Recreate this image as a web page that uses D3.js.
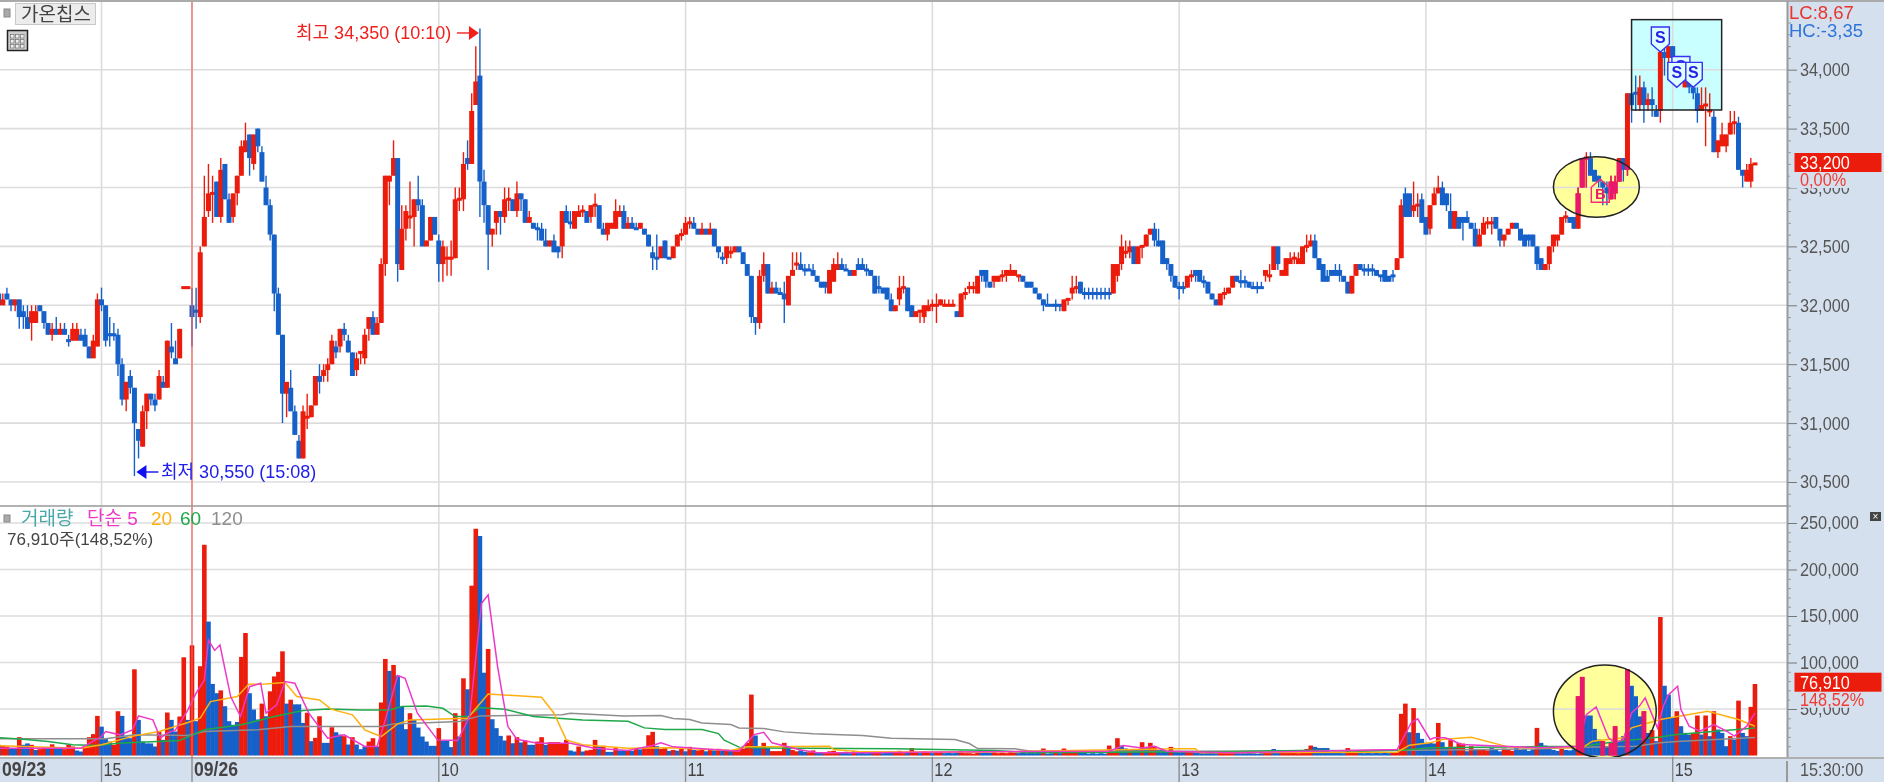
<!DOCTYPE html>
<html>
<head>
<meta charset="utf-8">
<script src="https://cdn.jsdelivr.net/npm/d3@7"></script>
<style>
    html, body { margin: 0; padding: 0; background: #fff; overflow: hidden; }
    svg { display: block; filter: blur(0.45px); }
    text { font-family: "Liberation Sans", "Noto Sans CJK KR", sans-serif; }
</style>
</head>
<body>
<div id="chart"></div>
<script>
// one candle per minute, 09/23 14:35 -> 09/26 15:20, ten bars a row
const open = [
    32100,32000,32100,32050,32000,32050,31950,31900,31850,31850,
    32000,31950,31850,31750,31800,31750,31800,31700,31700,31700,
    31750,31750,31650,31550,31650,32050,32000,31750,31750,31750,
    31500,31200,31400,31300,30950,30800,31100,31250,31200,31200,
    31350,31300,31650,31550,31550,32150,32150,32000,31950,31900,
    32500,32800,32950,33050,32750,33200,32900,32750,32950,33100,
    33300,33450,33200,33500,33300,33000,32850,32600,32100,31750,
    31250,31300,31100,30850,30700,31050,31050,31150,31400,31400,
    31450,31500,31650,31650,31800,31700,31600,31450,31600,31550,
    31800,31900,31750,31850,32350,33050,33100,33250,32300,32650,
    32750,32750,32900,32850,32500,32550,32750,32550,32350,32400,
    32400,32400,32900,32900,33250,33200,33700,33950,33050,32850,
    32600,32700,32800,32750,32900,32900,32800,32950,32900,32700,
    32700,32650,32650,32550,32500,32550,32500,32500,32800,32700,
    32650,32750,32800,32800,32750,32850,32850,32650,32600,32650,
    32650,32750,32800,32650,32700,32650,32650,32650,32600,32450,
    32400,32400,32550,32400,32400,32500,32600,32600,32700,32700,
    32650,32600,32650,32600,32650,32500,32400,32400,32450,32450,
    32500,32450,32350,32250,31900,31850,32250,32350,32100,32150,
    32100,32100,32000,32250,32350,32350,32300,32300,32300,32250,
    32200,32200,32100,32200,32300,32350,32300,32300,32250,32350,
    32350,32300,32300,32250,32150,32150,32150,32050,31950,32050,
    32150,32150,32000,31900,31950,31900,31950,32000,32000,32000,
    32000,32000,32000,31950,31900,32100,32150,32150,32100,32300,
    32300,32200,32200,32200,32250,32250,32250,32250,32250,32250,
    32200,32200,32150,32100,32050,32000,32000,32000,32000,31950,
    32050,32100,32150,32200,32100,32100,32100,32100,32100,32100,
    32100,32100,32250,32350,32450,32450,32500,32350,32500,32500,
    32600,32650,32550,32550,32400,32350,32250,32150,32150,32150,
    32250,32300,32300,32200,32200,32100,32050,32000,32100,32100,
    32150,32250,32200,32200,32200,32150,32150,32150,32250,32250,
    32300,32500,32250,32250,32350,32400,32350,32350,32500,32500,
    32550,32400,32350,32250,32300,32300,32300,32250,32200,32100,
    32250,32350,32300,32300,32300,32300,32250,32300,32250,32250,
    32300,32400,32950,32950,32800,32850,32900,32750,32650,32850,
    32950,33000,32950,32800,32650,32750,32750,32750,32700,32650,
    32500,32600,32700,32700,32750,32650,32550,32600,32650,32700,
    32650,32600,32600,32600,32500,32400,32300,32350,32500,32550,
    32600,32750,32750,32750,32650,33000,33250,33250,33150,33100,
    33050,33000,32900,32950,33050,33250,33150,33800,33800,33700,
    33850,33700,33750,33650,33650,34150,34100,34200,34100,34000,
    33850,33900,33850,33800,33650,33700,33650,33600,33300,33350,
    33350,33450,33550,33550,33150,33050,33050,33200
];
const close = [
    32000,32050,32050,32000,32050,31900,31900,31800,31950,31950,
    31950,31850,31750,31800,31750,31800,31750,31700,31800,31800,
    31700,31650,31550,31700,32050,32000,31700,31750,31750,31500,
    31200,31350,31300,31000,30850,31100,31250,31200,31150,31400,
    31300,31700,31600,31500,31800,32150,32150,31900,31950,32450,
    32750,32950,32950,32750,33150,32900,32700,32950,33100,33350,
    33400,33250,33450,33350,33050,32850,32600,32100,31750,31250,
    31350,31100,30900,30700,31100,31050,31150,31400,31350,31450,
    31500,31700,31600,31800,31750,31600,31400,31550,31600,31750,
    31900,31750,31850,32350,33100,33100,33250,32350,32650,32800,
    32750,32900,32850,32500,32550,32750,32600,32350,32500,32400,
    32400,32900,32900,33200,33200,33650,33900,33050,32850,32600,
    32650,32800,32750,32900,32900,32800,32950,32900,32700,32750,
    32650,32650,32550,32500,32550,32450,32450,32800,32700,32700,
    32800,32800,32800,32700,32850,32850,32650,32600,32700,32700,
    32800,32800,32650,32700,32650,32650,32700,32600,32500,32400,
    32400,32500,32400,32400,32500,32600,32600,32700,32700,32650,
    32600,32650,32600,32650,32500,32450,32400,32500,32450,32500,
    32450,32350,32250,31900,31850,32250,32350,32100,32150,32100,
    32100,32050,32250,32300,32350,32300,32300,32300,32250,32200,
    32150,32150,32300,32350,32350,32300,32300,32250,32300,32300,
    32300,32300,32250,32100,32150,32100,32050,31950,32000,32150,
    32150,31950,31900,31950,31950,32000,32000,32000,32000,32050,
    32000,32000,32000,31900,32100,32100,32150,32150,32250,32250,
    32200,32150,32250,32250,32250,32300,32300,32300,32250,32200,
    32150,32150,32100,32050,32000,32000,32000,32000,32000,32050,
    32050,32150,32150,32100,32100,32100,32100,32100,32100,32100,
    32100,32350,32350,32500,32450,32500,32350,32500,32500,32600,
    32650,32550,32500,32350,32350,32250,32150,32150,32150,32250,
    32250,32250,32200,32200,32100,32050,32000,32100,32100,32150,
    32250,32200,32200,32200,32150,32150,32150,32150,32300,32250,
    32500,32350,32300,32400,32400,32400,32400,32500,32500,32550,
    32400,32300,32200,32200,32250,32250,32250,32200,32100,32250,
    32350,32300,32300,32300,32300,32250,32250,32200,32200,32250,
    32400,32850,32750,32750,32850,32850,32700,32600,32850,32950,
    33000,32850,32850,32650,32800,32650,32700,32700,32650,32500,
    32600,32700,32700,32700,32650,32550,32600,32650,32700,32650,
    32550,32500,32550,32500,32350,32300,32350,32500,32600,32600,
    32750,32750,32700,32650,32950,33250,33250,33100,33050,33050,
    33000,32950,33050,33050,33250,33150,33800,33700,33800,33850,
    33700,33750,33700,33600,34150,34100,34200,34100,34000,33950,
    33900,33850,33800,33650,33700,33700,33650,33300,33400,33450,
    33450,33550,33550,33150,33100,33150,33200,33200
];
const high = [
    32100,32100,32150,32050,32050,32050,32000,32000,32000,32000,
    32000,31950,31850,31850,31900,31850,31850,31750,31850,31850,
    31800,31800,31650,31750,32100,32150,32000,31900,31850,31800,
    31550,31350,31450,31300,30950,31150,31250,31250,31250,31450,
    31400,31700,31850,31700,31800,32150,32150,32150,32150,32500,
    33100,33200,33100,33050,33250,33200,32950,32950,33100,33400,
    33550,33450,33450,33500,33350,33100,32900,32600,32150,31750,
    31350,31450,31150,30900,31150,31250,31150,31400,31500,31500,
    31550,31750,31700,31800,31850,31750,31600,31600,31600,31800,
    31900,31950,31900,32400,33100,33100,33400,33250,32850,32850,
    33050,32900,33100,32900,32550,32750,32750,32600,32550,32500,
    32550,33000,33000,33300,33400,33800,34200,34350,33150,32850,
    32650,32800,32800,33000,33000,32900,33050,32950,32900,32800,
    32700,32700,32700,32650,32550,32600,32500,32800,32850,32800,
    32800,32850,32850,32800,32850,32950,32850,32700,32700,32700,
    32900,32850,32850,32750,32750,32700,32700,32650,32600,32500,
    32600,32500,32550,32400,32500,32600,32650,32750,32750,32750,
    32650,32700,32650,32700,32650,32500,32450,32500,32500,32500,
    32500,32450,32350,32250,31900,32300,32450,32350,32200,32200,
    32150,32200,32250,32450,32450,32450,32350,32350,32350,32250,
    32200,32200,32300,32400,32450,32400,32350,32300,32300,32400,
    32400,32350,32300,32250,32250,32150,32150,32100,32000,32250,
    32250,32150,32000,31950,31950,32000,32050,32050,32100,32050,
    32050,32050,32050,31950,32100,32150,32200,32200,32250,32300,
    32300,32200,32250,32250,32300,32300,32350,32300,32250,32250,
    32200,32200,32150,32100,32050,32100,32000,32050,32000,32050,
    32050,32250,32250,32200,32150,32150,32150,32150,32150,32150,
    32150,32350,32350,32600,32550,32550,32500,32500,32500,32600,
    32650,32700,32650,32550,32400,32350,32250,32200,32200,32250,
    32300,32300,32300,32250,32200,32100,32050,32100,32150,32150,
    32250,32250,32300,32250,32200,32200,32200,32200,32300,32350,
    32500,32500,32300,32400,32450,32450,32450,32500,32600,32600,
    32600,32400,32350,32300,32300,32350,32350,32250,32200,32250,
    32350,32350,32350,32350,32350,32300,32250,32300,32250,32300,
    32400,32900,33000,32950,33050,32950,32950,32750,32850,33000,
    33100,33050,32950,32950,32800,32750,32750,32800,32700,32700,
    32650,32750,32750,32750,32750,32650,32600,32650,32700,32700,
    32650,32600,32600,32600,32500,32400,32350,32500,32600,32600,
    32750,32800,32750,32750,33000,33250,33300,33300,33150,33100,
    33050,33050,33100,33100,33250,33250,33800,33800,33950,33950,
    33900,33800,33850,33700,34150,34200,34200,34200,34100,34050,
    33950,33950,33900,33850,33850,33850,33800,33650,33400,33550,
    33450,33650,33650,33600,33150,33200,33250,33200
];
const low = [
    31950,32000,32050,31950,31950,31800,31800,31800,31700,31850,
    31950,31800,31750,31700,31750,31750,31750,31650,31700,31700,
    31700,31650,31550,31550,31650,31950,31650,31650,31700,31400,
    31150,31100,31250,30550,30700,30800,30950,31150,31100,31200,
    31300,31300,31550,31500,31550,32150,32150,31650,31800,31850,
    32500,32750,32700,32750,32700,32900,32700,32700,32850,33100,
    33300,33100,33150,33300,33050,32850,32550,31950,31750,31000,
    31050,31100,30900,30700,30700,30950,31050,31150,31250,31350,
    31350,31500,31550,31600,31700,31600,31400,31400,31500,31500,
    31700,31750,31750,31850,32250,32850,33100,32200,32300,32550,
    32650,32500,32800,32500,32500,32550,32600,32200,32200,32250,
    32250,32400,32800,32800,33150,33200,33700,32750,32700,32300,
    32500,32600,32600,32700,32800,32800,32750,32800,32700,32700,
    32650,32550,32550,32500,32500,32450,32400,32400,32700,32650,
    32650,32750,32750,32700,32700,32750,32650,32600,32550,32650,
    32650,32750,32650,32650,32650,32650,32650,32600,32500,32300,
    32300,32400,32400,32400,32400,32500,32550,32600,32650,32650,
    32600,32600,32600,32600,32500,32400,32350,32350,32400,32450,
    32450,32350,32250,31850,31750,31800,32200,32100,32100,32100,
    32100,31850,32000,32250,32300,32300,32250,32300,32250,32200,
    32150,32100,32100,32200,32300,32300,32300,32250,32250,32300,
    32300,32250,32250,32100,32100,32100,32050,31950,31950,32000,
    32100,31950,31900,31900,31850,31850,31950,31950,31850,32000,
    32000,32000,32000,31900,31900,32050,32100,32100,32100,32200,
    32150,32150,32150,32200,32200,32200,32250,32250,32200,32200,
    32150,32150,32100,32050,31950,32000,32000,31950,31950,31950,
    32000,32050,32100,32100,32050,32050,32050,32050,32050,32050,
    32050,32100,32200,32300,32400,32400,32350,32350,32400,32500,
    32600,32500,32500,32350,32300,32200,32150,32050,32100,32150,
    32200,32200,32200,32150,32100,32050,32000,32000,32050,32100,
    32150,32200,32150,32150,32150,32150,32100,32150,32200,32200,
    32300,32300,32250,32250,32350,32350,32350,32350,32450,32500,
    32400,32300,32200,32200,32250,32250,32200,32200,32100,32100,
    32250,32300,32250,32250,32250,32250,32200,32200,32200,32200,
    32300,32400,32750,32750,32750,32750,32700,32600,32600,32850,
    32950,32850,32800,32650,32650,32650,32550,32700,32650,32500,
    32500,32600,32650,32600,32650,32500,32500,32600,32650,32650,
    32550,32500,32500,32500,32300,32300,32300,32300,32450,32500,
    32600,32700,32700,32650,32650,33000,33000,33100,33050,33000,
    32850,32850,32900,32900,33050,33050,33100,33550,33650,33650,
    33550,33650,33600,33600,33550,33950,34000,34000,33950,33900,
    33850,33800,33750,33550,33650,33350,33600,33300,33250,33350,
    33300,33450,33450,33150,33000,33050,33000,33200
];

const volume = [
    11500,10400,9700,8000,8000,19700,11500,13000,11500,6000,
    6800,8000,8000,12000,9000,8000,6800,11500,9700,5400,
    4300,9700,19700,23000,42600,31000,18600,15000,11500,47600,
    42600,20400,18600,92700,38300,15000,13000,13000,9700,25800,
    16800,46200,38300,25800,41900,105600,38300,118500,36900,96000,
    226600,144000,77000,67000,70000,53000,36900,33000,36000,106000,
    131700,67000,49400,38700,55800,42200,69000,85000,90000,112000,
    55800,60000,55000,55000,35000,46000,15400,19000,42200,13600,
    13600,30400,25000,22500,20800,11800,19700,11800,6800,9700,
    15000,18600,9700,57000,103800,91000,97400,86000,52600,28300,
    45500,38300,30000,20400,15000,10400,10400,29400,16100,16100,
    9000,45500,20400,83000,71200,182600,243800,236000,89000,114600,
    39000,29400,21100,16100,21500,13200,19700,14000,16100,11500,
    11500,15000,19700,11500,14300,14300,14300,13200,16800,5400,
    4300,9700,4300,5400,6100,16800,9700,10400,3900,3900,
    7900,5400,5400,6000,5000,7500,6500,8000,21800,25400,
    10000,7000,8200,5000,6000,5200,7000,4500,9300,6000,
    5500,7000,4500,6500,5500,7200,5000,6200,4800,6000,
    6500,7500,13600,65500,21500,10000,13600,8200,4700,4700,
    4700,13600,10000,6000,4500,5500,4000,3500,5500,3000,
    3000,2500,4500,5000,3500,3000,4000,2500,5000,3500,
    3500,2500,3000,4500,3500,2500,3000,4000,3500,5000,
    2500,3500,7900,3000,2500,4500,3000,2500,3500,4000,
    2500,3000,2500,3500,5000,2500,2500,2000,4500,3000,
    3500,3000,3500,2500,3000,2500,3500,3000,2500,3000,
    2500,3000,2500,3500,7500,2000,2500,3000,2500,7500,
    3000,4000,3500,3500,3000,2000,2500,2000,2500,2000,
    10700,4000,18600,10700,7500,7000,6500,6000,14300,8000,
    13600,10000,6000,6500,5000,9300,4000,3500,4500,4000,
    3500,3000,3500,2500,3500,3000,2500,4000,3000,3500,
    4000,3000,2500,2500,3000,2500,2000,2500,4000,3500,
    7000,4500,3500,4500,3500,3000,2500,4000,7000,10700,
    9300,8000,8000,8000,3500,3000,3500,2500,8000,3500,
    3000,3500,2500,3000,2500,3000,2500,3000,2500,3000,
    3500,44800,55800,25000,51000,24300,17900,13600,13600,12900,
    35000,14300,8200,16500,9300,13600,12900,4600,10000,6400,
    6400,7000,5500,8000,6000,4500,7500,6500,5000,8000,
    6000,7000,5000,6500,29700,13600,10700,9000,6000,5000,
    7000,6000,5500,6500,63700,84500,43000,43000,28600,17200,
    15400,10000,13600,31500,15400,20800,93000,75000,63700,42000,
    47600,24300,27200,15400,148900,75000,65500,40500,47600,31500,
    24300,22500,24300,43000,22500,43000,20800,47600,27900,24300,
    10000,20800,17200,59000,24300,20800,52300,76910
];
// 1 = red volume bar, 0 = blue
const volumeUp = [
    0,1,1,0,0,1,0,0,1,0, 1,1,0,1,0,0,1,1,1,0, 0,1,1,1,1,0,0,0,1,1, 0,0,0,1,0,0,0,0,0,1,
    0,1,0,0,1,1,0,1,0,1, 1,0,0,0,1,0,0,0,0,1, 1,0,0,0,1,0,1,1,1,1, 0,1,0,0,0,1,0,1,1,0,
    0,1,0,0,1,0,1,0,0,0, 1,1,0,1,1,0,1,0,0,0, 1,0,0,0,0,0,0,1,0,0, 0,1,0,1,0,1,1,0,0,1,
    0,0,0,0,1,0,1,0,1,0, 0,1,1,0,1,1,1,1,1,0, 0,1,0,1,1,1,0,1,0,0, 1,0,0,1,0,1,0,1,1,1,
    0,1,1,0,1,0,1,0,1,0, 1,1,0,1,0,1,0,1,0,1, 1,1,1,1,0,0,1,0,1,1, 1,1,0,1,1,0,0,1,1,0,
    0,1,1,1,1,0,0,0,1,0, 0,0,0,1,1,0,0,0,1,1, 1,0,1,1,0,1,1,0,1,1, 0,0,0,0,1,1,1,1,1,0,
    0,0,1,1,1,1,1,1,0,0, 0,0,0,0,1,0,0,1,0,1, 1,1,1,0,0,0,0,0,0,0, 1,1,1,0,0,1,0,0,1,0,
    1,1,0,0,0,1,0,0,0,1, 1,0,0,0,0,0,0,1,1,1, 1,0,0,0,0,0,0,0,1,1, 0,0,1,1,1,1,1,1,1,1,
    0,0,0,0,0,0,0,0,1,1, 1,0,0,0,0,0,0,0,0,1, 1,1,1,0,1,0,0,0,0,0, 1,0,0,1,0,1,1,0,1,0,
    1,1,1,0,0,0,1,1,1,0, 0,0,0,0,1,0,0,0,0,0, 1,0,0,0,1,1,0,0,0,0, 1,0,1,1,0,0,1,0,0,0,
    1,0,1,0,1,0,0,0,1,0, 0,0,1,1,0,1,0,1,0,0, 0,1,0,1,0,0,1,1
];

// moving averages, vertices (bar index + value)
const ma5At = [0,20,25,26,29.5,32.5,34,37.5,39.3,41,43,46,48,50,51,52.5,53.8,56.4,58.8,61,63.7,65,67.6,69.6,72,75.4,80,84,89,92,94,97,98.8,101.8,106.7,111.6,114.5,117.4,119,121.3,123.8,126,131,139,144.8,153,159,161,164,180,183.7,186,188,194.5,199,212,222,270,273.4,278,281,284,300,340,343.4,345,348,349,351.6,353,355.5,375,384,386,388.4,391.4,393,395,397,399,400.3,403.3,404.7,406,408.2,409,411,413.6,417,420.1,422,425,427];
const ma5 = [7900,7900,20400,25800,22200,27600,42600,38300,18600,24000,27600,49000,67000,81000,124000,113000,118800,63400,41900,74000,77700,45500,54400,79500,77700,45500,18600,22200,9700,9700,38300,86000,83000,45500,16800,16100,41900,163600,172600,95600,31100,17500,13200,13200,7900,5400,10700,13600,9300,4700,22500,25000,13600,6400,2900,2900,3600,4700,10700,8200,10000,4700,2900,6400,35000,39400,17200,19000,19000,17200,11800,8200,10000,44000,52300,19000,13600,17200,45800,53700,62000,29700,53000,65500,74500,49400,31500,26100,33300,26100,20800,31500,45800];
const ma20At = [0,20,25,33,39,46,49,51.5,58,60.8,64.7,69.6,72.5,78,80.8,86,89,93,97,100,114,119,132,135,138,142,153,163,178,182,202,203,210,237,286,291,292,340,343,348,351,358,367,373,385,387.5,395,397,404,415.5,423,427];
const ma20 = [10400,7900,11500,21100,25800,35400,40100,58000,63400,76600,77000,78400,63400,59800,49800,43700,27600,20400,34000,38300,40100,66200,62600,45500,16800,11500,7900,8200,5400,9300,10000,6400,3900,3600,7200,7200,2900,3600,11100,13600,17200,19700,9300,8200,8200,15400,19000,29700,38700,47600,38700,31500];
const ma60At = [0,6,12,18,24,29,44,50,59,67,74,80,88,95,98,104,108,111,114,117,123,130,142,153,157,162,171,175,176.4,180,183,218,242,251,300,320,331,341,348,385,394,404,408,427];
const ma60 = [19300,17500,15000,11500,10700,13200,16100,27600,33000,41900,48300,50000,49000,49000,52600,53300,50800,41900,41900,51500,49800,41900,38300,36900,29700,28000,28000,23600,16500,9000,8200,7200,5400,2900,4300,5700,4600,5700,8200,10000,15400,20000,22500,29700];
const ma120At = [0,26,33,46,50,63,71,93,96,112,117,137,139,152,161,164,168,171,178,180,186,191,198,210,217,232.5,236,238,247,251,300,345,375,385,398,404,408,427];
const ma120 = [17900,17900,22200,21500,25800,27600,31100,31100,34000,36500,42600,43700,45500,42600,43000,39700,38700,35000,33300,29700,29000,25400,23300,21500,18600,17200,12900,7500,7200,4700,4700,5700,7200,9000,10000,13600,15000,19300];

const priceTicks = [30500,31000,31500,32000,32500,33000,33500,34000];
const priceMinor = d3.range(30300, 34500, 100).filter(d => d % 500 !== 0);
const volumeTicks = [50000,100000,150000,200000,250000];
const volumeMinor = d3.range(10000, 260000, 10000).filter(d => d % 50000 !== 0);

const timeAt = [0,25,47,107,167,227,287,347,407];
const timeLabels = ["09/23","15","09/26","10","11","12","13","14","15"];

const sellAt = [404,409,412,408];
const sellPrice = [34150,33900,33850,33850];
const buyAt = [389.4];
const buyPrice = [33070];

const width = 1884, height = 782;
const plotRight = 1788;
const priceTop = 2, priceBottom = 506, volumeBottom = 757;
const RED = "#ec1c0c", BLUE = "#1560c9", PINK = "#e8186c", GRID = "#dcdcdc", BAND = "#d5e0ef";

const x = d3.scaleLinear().domain([47, 407]).range([192, 1672.7]);
const y = d3.scaleLinear().domain([34000, 30500]).range([69.7, 482]);
const yVol = d3.scaleLinear().domain([0, 250000]).range([755.5, 523]);

const svg = d3.select("#chart").append("svg")
    .attr("width", width)
    .attr("height", height);

const defs = svg.append("defs");
defs.append("clipPath").attr("id", "price-clip").append("rect")
    .attr("x", 0).attr("y", priceTop).attr("width", plotRight).attr("height", priceBottom - priceTop);
defs.append("clipPath").attr("id", "volume-clip").append("rect")
    .attr("x", 0).attr("y", priceBottom).attr("width", plotRight).attr("height", volumeBottom - priceBottom);

svg.append("rect").attr("width", width).attr("height", height).attr("fill", "#fff");

// right and bottom bands
svg.append("rect").attr("x", plotRight).attr("y", 0).attr("width", width - plotRight).attr("height", height).attr("fill", BAND);
svg.append("rect").attr("x", 0).attr("y", volumeBottom).attr("width", width).attr("height", height - volumeBottom).attr("fill", BAND);

// the hts font is narrow and tall, squeeze the labels sideways
function squeeze(sel, k) {
    sel.attr("lengthAdjust", "spacingAndGlyphs")
        .attr("textLength", function() { return this.getComputedTextLength() * k; });
}

// drawn shapes, they sit under the grid
const priceBox = { from: 397, to: 418.9, top: 34425, bottom: 33658 };
const priceOval = { from: 378, to: 398.9, top: 33262, bottom: 32748 };
const volumeOval = { from: 378, to: 403, top: 97300, bottom: -2700 };

function ovalAttrs(sel, o, scale) {
    return sel.attr("cx", (x(o.from) + x(o.to)) / 2)
        .attr("cy", (scale(o.top) + scale(o.bottom)) / 2)
        .attr("rx", (x(o.to) - x(o.from)) / 2)
        .attr("ry", (scale(o.bottom) - scale(o.top)) / 2);
}

svg.append("rect")
    .attr("x", x(priceBox.from)).attr("y", y(priceBox.top))
    .attr("width", x(priceBox.to) - x(priceBox.from))
    .attr("height", y(priceBox.bottom) - y(priceBox.top))
    .attr("fill", "#c9ffff");
ovalAttrs(svg.append("ellipse"), priceOval, y).attr("fill", "#ffff9c");
ovalAttrs(svg.append("ellipse").attr("clip-path", "url(#volume-clip)"), volumeOval, yVol).attr("fill", "#ffff9c");

// grid
const grid = svg.append("g").attr("stroke", GRID).attr("stroke-width", 1.6);
grid.selectAll(".h-price").data(priceTicks).enter().append("line")
    .attr("x1", 0).attr("x2", plotRight).attr("y1", d => y(d)).attr("y2", d => y(d));
grid.selectAll(".h-vol").data(volumeTicks).enter().append("line")
    .attr("x1", 0).attr("x2", plotRight).attr("y1", d => yVol(d)).attr("y2", d => yVol(d));
grid.selectAll(".v").data(timeAt.slice(1)).enter().append("line")
    .attr("x1", d => x(d)).attr("x2", d => x(d)).attr("y1", priceTop).attr("y2", volumeBottom);

// candles
const barIdx = d3.range(open.length);

function isUp(i) {
    // flat bars keep the colour of the bar before
    while (i > 0 && close[i] === open[i]) i--;
    return close[i] >= open[i];
}

function drawCandles(g, idx, colour) {
    g.selectAll(".wick").data(idx).enter().append("line")
        .attr("x1", i => x(i)).attr("x2", i => x(i))
        .attr("y1", i => y(high[i])).attr("y2", i => y(low[i]))
        .attr("stroke", i => colour(i)).attr("stroke-width", 1.4);
    g.selectAll(".body").data(idx).enter().append("rect")
        .attr("x", i => x(i) - 2.5)
        .attr("y", i => y(Math.max(open[i], close[i])) - (open[i] === close[i] ? 1.5 : 0))
        .attr("width", 5)
        .attr("height", i => Math.max(3, Math.abs(y(open[i]) - y(close[i]))))
        .attr("fill", i => colour(i));
}

drawCandles(svg.append("g").attr("clip-path", "url(#price-clip)"), barIdx, i => isUp(i) ? RED : BLUE);

// red candles turn pink inside the oval
defs.append("clipPath").attr("id", "oval-price").call(c => ovalAttrs(c.append("ellipse"), priceOval, y));
drawCandles(svg.append("g").attr("clip-path", "url(#oval-price)"), barIdx.filter(isUp), () => PINK);

// volume bars
const volG = svg.append("g").attr("clip-path", "url(#volume-clip)");
function drawVolume(g, idx, colour) {
    g.selectAll(".vol").data(idx).enter().append("rect")
        .attr("x", i => x(i) - 2.3)
        .attr("y", i => yVol(volume[i]))
        .attr("width", 4.6)
        .attr("height", i => yVol(0) - yVol(volume[i]))
        .attr("fill", i => colour(i));
}
drawVolume(volG, barIdx, i => volumeUp[i] ? RED : BLUE);

defs.append("clipPath").attr("id", "oval-volume").call(c => ovalAttrs(c.append("ellipse"), volumeOval, yVol));
drawVolume(svg.append("g").attr("clip-path", "url(#oval-volume)"), barIdx.filter(i => volumeUp[i]), () => PINK);

// averages
const maLine = at => d3.line().x((d, k) => x(at[k])).y(d => yVol(d));
[[ma120, ma120At, "#8e8e8e"], [ma60, ma60At, "#1ea84a"], [ma20, ma20At, "#ffb00f"], [ma5, ma5At, "#ee38c8"]].forEach(([vals, at, col]) => {
    volG.append("path")
        .datum(vals)
        .attr("d", maLine(at))
        .attr("fill", "none")
        .attr("stroke", col)
        .attr("stroke-width", 1.5);
});

// outlines of the drawn shapes
svg.append("rect")
    .attr("x", x(priceBox.from)).attr("y", y(priceBox.top))
    .attr("width", x(priceBox.to) - x(priceBox.from))
    .attr("height", y(priceBox.bottom) - y(priceBox.top))
    .attr("fill", "none").attr("stroke", "#222").attr("stroke-width", 1.5);
ovalAttrs(svg.append("ellipse"), priceOval, y).attr("fill", "none").attr("stroke", "#222").attr("stroke-width", 1.5);
ovalAttrs(svg.append("ellipse").attr("clip-path", "url(#volume-clip)"), volumeOval, yVol).attr("fill", "none").attr("stroke", "#222").attr("stroke-width", 1.5);

// sell and buy flags
const sell = svg.selectAll(".sell").data(sellAt).enter().append("g")
    .attr("transform", (d, k) => `translate(${x(d)},${y(sellPrice[k])})`);
sell.append("path")
    .attr("d", "M0,0L-9,-8L-9,-25L9,-25L9,-8Z")
    .attr("fill", "#dcffff").attr("stroke", "#3a30f4").attr("stroke-width", 1.4);
sell.append("text")
    .attr("y", -9).attr("text-anchor", "middle")
    .attr("fill", "#2a20e8").attr("font-size", 16).attr("font-weight", "bold")
    .text("S");

const buy = svg.selectAll(".buy").data(buyAt).enter().append("g")
    .attr("transform", (d, k) => `translate(${x(d)},${y(buyPrice[k])})`);
buy.append("path")
    .attr("d", "M0,0L9,8L9,23L-9,23L-9,8Z")
    .attr("fill", "none").attr("stroke", "#ff2a78").attr("stroke-width", 1.4);
buy.append("text")
    .attr("y", 20).attr("text-anchor", "middle")
    .attr("fill", "#f01c66").attr("font-size", 15).attr("font-weight", "bold")
    .text("B");

// selected time
svg.append("line")
    .attr("x1", x(47)).attr("x2", x(47)).attr("y1", priceTop).attr("y2", volumeBottom)
    .attr("stroke", "#f4605a").attr("stroke-width", 1.2);

// frame lines
svg.append("line").attr("x1", 0).attr("x2", width).attr("y1", 1).attr("y2", 1).attr("stroke", "#aaa").attr("stroke-width", 2);
svg.append("line").attr("x1", 0).attr("x2", plotRight).attr("y1", priceBottom).attr("y2", priceBottom).attr("stroke", "#999").attr("stroke-width", 1.5);
svg.append("line").attr("x1", 0).attr("x2", width).attr("y1", volumeBottom + 1).attr("y2", volumeBottom + 1).attr("stroke", "#b0b0b0").attr("stroke-width", 2);
svg.append("line").attr("x1", plotRight - 0.5).attr("x2", plotRight - 0.5).attr("y1", 1).attr("y2", volumeBottom).attr("stroke", "#9a9a9a").attr("stroke-width", 2);

// axes
function drawAxis(scale, ticks, minor, clipTop, clipBottom) {
    const g = svg.append("g").attr("transform", `translate(${plotRight},0)`);
    g.call(d3.axisRight(scale).tickValues(minor.filter(d => scale(d) > clipTop && scale(d) < clipBottom)).tickSize(3).tickFormat(""));
    g.call(s => s.select(".domain").remove());
    g.selectAll("line").attr("stroke", "#999");
    const m = svg.append("g").attr("transform", `translate(${plotRight},0)`);
    m.call(d3.axisRight(scale).tickValues(ticks).tickSize(9).tickPadding(3).tickFormat(d3.format(",")));
    m.call(s => s.select(".domain").remove());
    m.selectAll("line").attr("stroke", "#777");
    m.selectAll("text")
        .attr("font-size", 18.5)
        .attr("fill", "#555")
        .style("font-family", '"Liberation Sans", sans-serif')
        .call(squeeze, 0.88);
}
drawAxis(y, priceTicks, priceMinor, priceTop, priceBottom);
drawAxis(yVol, volumeTicks, volumeMinor, priceBottom, volumeBottom);

// time axis
const timeG = svg.append("g");
timeG.selectAll("line").data(timeAt.slice(1)).enter().append("line")
    .attr("x1", d => x(d)).attr("x2", d => x(d))
    .attr("y1", volumeBottom).attr("y2", height)
    .attr("stroke", "#8c8c8c").attr("stroke-width", 1.4);
timeG.selectAll("text").data(timeAt).enter().append("text")
    .attr("x", d => d === 0 ? 2 : x(d) + 2)
    .attr("y", 776)
    .attr("font-size", (d, k) => timeLabels[k].includes("/") ? 20 : 18.5)
    .attr("font-weight", (d, k) => timeLabels[k].includes("/") ? "bold" : "normal")
    .attr("fill", "#444")
    .text((d, k) => timeLabels[k])
    .call(squeeze, 0.88);

svg.append("line").attr("x1", 1787).attr("x2", 1787).attr("y1", 761).attr("y2", height).attr("stroke", "#9a9a9a").attr("stroke-width", 2);
svg.append("text").attr("x", 1800).attr("y", 776).attr("font-size", 18.5).attr("fill", "#555").text("15:30:00").call(squeeze, 0.88);

// current price and volume tags
function tag(top, label, sub, subBaseline) {
    svg.append("rect").attr("x", 1790).attr("y", top + 19).attr("width", 94).attr("height", 16).attr("fill", BAND);
    svg.append("rect").attr("x", 1794.5).attr("y", top).attr("width", 87).attr("height", 19).attr("fill", RED);
    svg.append("text").attr("x", 1800).attr("y", top + 16).attr("font-size", 18.5).attr("fill", "#fff").text(label).call(squeeze, 0.88);
    svg.append("text").attr("x", 1800).attr("y", subBaseline).attr("font-size", 18.5).attr("fill", "#f23a30").text(sub).call(squeeze, 0.88);
}
tag(153, "33,200", "0,00%", 186);
tag(672.7, "76,910", "148,52%", 706);

svg.append("text").attr("x", 1789).attr("y", 19).attr("font-size", 18.5).attr("fill", "#e8342a").text("LC:8,67");
svg.append("text").attr("x", 1789).attr("y", 37).attr("font-size", 18.5).attr("fill", "#2f74d8").text("HC:-3,35");

// close button of the volume pane
svg.append("rect").attr("x", 1870).attr("y", 512).attr("width", 11).attr("height", 9).attr("fill", "#444");
svg.append("text").attr("x", 1875.5).attr("y", 520).attr("text-anchor", "middle").attr("font-size", 10).attr("fill", "#fff").text("×");

// high and low labels
function arrow(xTip, yTip, dir, colour) {
    const xTail = xTip - dir * 22;
    svg.append("line").attr("x1", xTail).attr("x2", xTip - dir * 8).attr("y1", yTip).attr("y2", yTip).attr("stroke", colour).attr("stroke-width", 1.4);
    svg.append("path")
        .attr("d", `M${xTip},${yTip}L${xTip - dir * 10},${yTip - 7}L${xTip - dir * 10},${yTip + 7}Z`)
        .attr("fill", colour);
}
svg.append("text").attr("x", 296).attr("y", 39).attr("font-size", 18).attr("fill", "#f0201c").text("최고 34,350 (10:10)");
arrow(x(117) - 1, 33, 1, "#f0201c");
svg.append("text").attr("x", 161).attr("y", 478).attr("font-size", 18).attr("fill", "#2020e8").text("최저 30,550 (15:08)");
arrow(x(33) + 2, 472, -1, "#1010f0");

// top left title
svg.append("rect").attr("x", 4).attr("y", 9).attr("width", 6).attr("height", 8).attr("fill", "#aaa").attr("stroke", "#888");
svg.append("rect").attr("x", 15.5).attr("y", 3.5).attr("width", 80).attr("height", 21).attr("fill", "#ececec").attr("stroke", "#c8c8c8");
svg.append("text").attr("x", 21).attr("y", 21).attr("font-size", 19).attr("fill", "#444").text("가온칩스");

// little table icon
const icon = svg.append("g").attr("transform", "translate(7.5,30.5)");
icon.append("rect").attr("width", 20).attr("height", 20).attr("fill", "#ccc").attr("stroke", "#222").attr("stroke-width", 1.5);
icon.selectAll(".cell").data(d3.range(9)).enter().append("rect")
    .attr("x", d => 3 + (d % 3) * 5)
    .attr("y", d => 4 + Math.floor(d / 3) * 5)
    .attr("width", 3.5).attr("height", 3.5)
    .attr("fill", "#eee").attr("stroke", "#666").attr("stroke-width", 0.6);

// volume legend
svg.append("rect").attr("x", 4).attr("y", 515).attr("width", 6).attr("height", 7).attr("fill", "#aaa").attr("stroke", "#888");
const legendNames = ["거래량", "단순 5", "20", "60", "120"];
const legendX = [21, 87, 151, 180, 211];
const legendColors = ["#4aa7a7", "#ee38c8", "#ffb00f", "#1ea84a", "#8e8e8e"];
svg.selectAll(".legend").data(legendNames).enter().append("text")
    .attr("x", (d, k) => legendX[k])
    .attr("y", 525)
    .attr("font-size", 19)
    .attr("fill", (d, k) => legendColors[k])
    .text(d => d);
svg.append("text").attr("x", 7).attr("y", 545).attr("font-size", 17).attr("fill", "#444").text("76,910주(148,52%)");
</script>
</body>
</html>
